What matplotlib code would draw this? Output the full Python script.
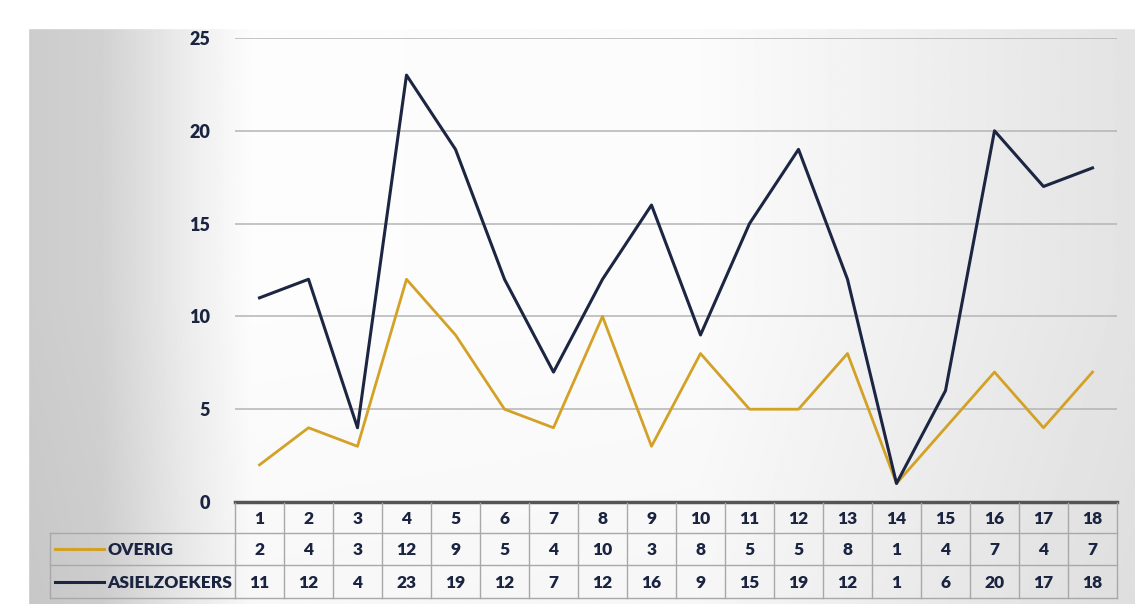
import numpy as np
import matplotlib
matplotlib.use("Agg")
import matplotlib.pyplot as plt

categories = list(range(1, 19))
overig = [2, 4, 3, 12, 9, 5, 4, 10, 3, 8, 5, 5, 8, 1, 4, 7, 4, 7]
asielzoekers = [11, 12, 4, 23, 19, 12, 7, 12, 16, 9, 15, 19, 12, 1, 6, 20, 17, 18]
series_names = ["OVERIG", "ASIELZOEKERS"]
yticks = [0, 5, 10, 15, 20, 25]

C_Y = "#d3a126"
C_N = "#1c2541"
TXT = "#1a2440"
plt.rcParams['font.family'] = ['Lato', 'DejaVu Sans']
FW = "heavy"

W, H = 1135, 604
fig = plt.figure(figsize=(W / 100, H / 100), dpi=100)

def fx(px):
    return px / W

def fy(py):
    return 1 - py / H

# background gradient (scanned paper)
bg = fig.add_axes([0, 0, 1, 1], zorder=0)
bg.set_xlim(0, W); bg.set_ylim(H, 0); bg.axis("off")
xs = np.linspace(28, W, 600)
prof = np.interp(xs, [28, 100, 180, 250, 700, 950, 1135], [0.80, 0.82, 0.92, 0.99, 0.985, 0.93, 0.89])
ys = np.linspace(28, H, 300)
vprof = np.interp(ys, [28, 300, 604], [0.0, 0.0, -0.02])
img = np.clip(prof[None, :] + vprof[:, None], 0, 1)
bg.imshow(img, cmap="gray", vmin=0, vmax=1, extent=[28, W, H, 28], aspect="auto")
bg.add_patch(plt.Rectangle((0, 0), W, 28, color="white", zorder=1))
bg.add_patch(plt.Rectangle((0, 0), 28, H, color="white", zorder=1))

# main plot
x0, x1 = 235, 1117
ax = fig.add_axes([fx(x0), fy(502), fx(x1 - x0), fy(38) - fy(502)], zorder=2)
ax.patch.set_alpha(0)
ax.set_xlim(0.5, 18.5)
ax.set_ylim(0, 25)
for v in yticks[1:]:
    ax.axhline(v, color="#b4b4b4", lw=1.1, zorder=1)
ax.plot(categories, overig, color=C_Y, lw=2.0, zorder=3)
ax.plot(categories, asielzoekers, color=C_N, lw=2.2, zorder=4)
ax.set_yticks(yticks)
ax.set_yticklabels([str(v) for v in yticks], fontsize=13, fontweight=FW, color=TXT)
ax.tick_params(axis="y", length=0, pad=18)
ax.set_xticks([])
for s in ["top", "right", "left"]:
    ax.spines[s].set_visible(False)
ax.spines["bottom"].set_color("#555555")
ax.spines["bottom"].set_linewidth(2.5)

# data table
tb = fig.add_axes([0, 0, 1, 1], zorder=3)
tb.set_xlim(0, W); tb.set_ylim(H, 0); tb.axis("off")
cw = (x1 - x0) / 18
r0, r1, r2, r3 = 503, 533, 565, 598
gc = "#a8a8a8"
for yy in [r1, r2, r3]:
    tb.plot([x0, x1], [yy, yy], color=gc, lw=1.0)
for yy in [r2, r3]:
    tb.plot([50, x0], [yy, yy], color=gc, lw=1.0)
tb.plot([50, x0], [r1, r1], color=gc, lw=1.0)
tb.plot([50, 50], [r1, r3], color=gc, lw=1.0)
for i in range(19):
    xx = x0 + i * cw
    tb.plot([xx, xx], [r0, r3], color=gc, lw=1.0)
fs = 12.5
for i, c in enumerate(categories):
    cx = x0 + (i + 0.5) * cw
    tb.text(cx, (r0 + r1) / 2 + 1, str(c), ha="center", va="center", fontsize=fs, fontweight=FW, color=TXT)
    tb.text(cx, (r1 + r2) / 2 + 1, str(overig[i]), ha="center", va="center", fontsize=fs, fontweight=FW, color=TXT)
    tb.text(cx, (r2 + r3) / 2 + 1, str(asielzoekers[i]), ha="center", va="center", fontsize=fs, fontweight=FW, color=TXT)
# legend keys in row headers
for (ya, yb), name, col in [((r1, r2), series_names[0], C_Y), ((r2, r3), series_names[1], C_N)]:
    ym = (ya + yb) / 2
    tb.plot([55, 104], [ym, ym], color=col, lw=2.2)
    tb.text(107, ym + 1, name, ha="left", va="center", fontsize=fs, fontweight=FW, color=TXT)

fig.savefig("out.png", dpi=100)
